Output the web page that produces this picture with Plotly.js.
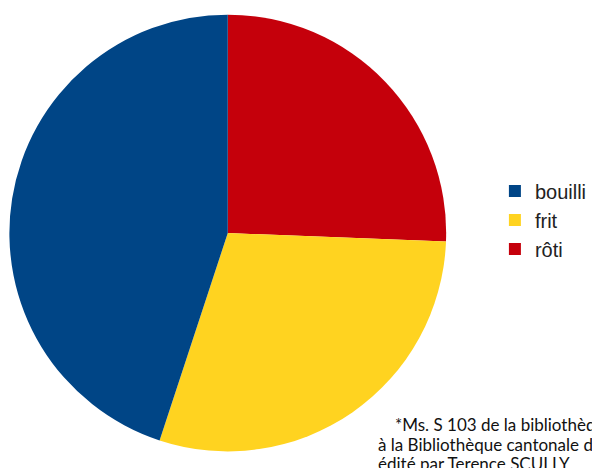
<!DOCTYPE html>
<html>
<head>
<meta charset="utf-8">
<script src="https://cdn.plot.ly/plotly-3.0.1.min.js"></script>
<style>html,body{margin:0;padding:0;background:#fff;}#chart{width:592px;height:468px;}</style>
</head>
<body>
<div id="chart"></div>
<script>
// Slices listed clockwise from 12 o'clock; legend shown reversed (bouilli, frit, rôti)
const labels = ["rôti", "frit", "bouilli"];
const values = [25.6, 29.4, 44.9];
const colors = ["#c5000b", "#ffd320", "#004586"];
const noteLines = [
  "*Ms. S 103 de la bibliothèque de Sion",
  "à la Bibliothèque cantonale du Valais",
  "édité par Terence SCULLY"
];

const trace = {
  type: "pie",
  labels: labels,
  values: values,
  sort: false,
  direction: "clockwise",
  rotation: 0,
  textinfo: "none",
  hoverinfo: "label+percent",
  marker: {colors: colors, line: {width: 0}},
  domain: {x: [0.01605, 0.76267], y: [0.0299, 0.9743]}
};

const noteFont = {family: "Lato, sans-serif", size: 17, color: "#111"};

const layout = {
  width: 592, height: 468,
  margin: {l: 0, r: 0, t: 0, b: 0},
  paper_bgcolor: "#ffffff",
  showlegend: true,
  legend: {
    x: 0.846, y: 0.53, xanchor: "left", yanchor: "middle",
    traceorder: "reversed",
    font: {family: "Liberation Sans, Arial, sans-serif", size: 20, color: "#222"},
    itemwidth: 30,
    tracegroupgap: 0
  },
  annotations: [
    {text: noteLines[0], x: 398/592, y: 1 - 424/468, xref: "paper", yref: "paper", xanchor: "left", yanchor: "middle", showarrow: false, font: noteFont},
    {text: noteLines[1], x: 380/592, y: 1 - 444/468, xref: "paper", yref: "paper", xanchor: "left", yanchor: "middle", showarrow: false, font: noteFont},
    {text: noteLines[2], x: 380/592, y: 1 - 463/468, xref: "paper", yref: "paper", xanchor: "left", yanchor: "middle", showarrow: false, font: noteFont}
  ]
};

Plotly.newPlot("chart", [trace], layout, {displayModeBar: false, staticPlot: true});
</script>
</body>
</html>
